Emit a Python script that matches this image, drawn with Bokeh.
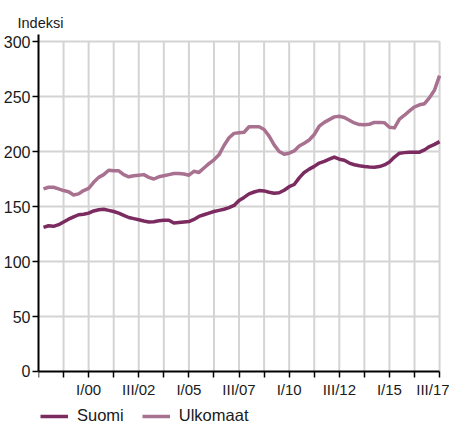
from bokeh.plotting import figure
from bokeh.models import Range1d, FixedTicker, Legend, LegendItem, ColumnDataSource, LinearAxis
from bokeh.core.properties import value
from bokeh.embed import file_html
from bokeh.resources import INLINE

# ---- data ----
start_year, start_q = 1997, 4
suomi = [131, 132.5, 132, 133.5, 136, 138.5, 140.5, 142.5, 143, 144,
         146, 147, 147.5, 146.5, 145.5, 144, 142, 140, 139, 138,
         136.8, 136, 136.2, 137, 137.5, 137.5, 135, 135.5, 136, 136.3,
         138.3, 141, 142.5, 144, 145.5, 146.5, 147.5, 149, 151, 155.5,
         158.3, 161.5, 163.2, 164.5, 164.2, 163, 162, 162.5, 164.8, 168,
         170, 176, 181, 184, 186.5, 189.5, 191, 193, 195, 193,
         192, 189.5, 188, 187, 186.4, 186, 185.8, 186.3, 187.8, 190.5,
         195, 198.5, 199, 199.4, 199.4, 199.4, 201.5, 204.5, 206.5, 209]
ulkomaat = [166, 167.5, 167.5, 166, 164.5, 163.5, 160.5, 161.5, 164.5, 166.5,
            172, 176.5, 179, 183, 182.5, 182.5, 179, 177, 178, 178.5,
            179, 176.5, 175, 177, 178, 179, 180, 180, 179.5, 178.5,
            182, 181, 185, 189, 192.5, 197, 205.5, 212.5, 216.5, 217,
            217.5, 222.5, 222.5, 222.5, 220, 214, 206, 200, 197.5, 198.5,
            200.5, 205, 207.5, 210.5, 215.5, 223, 226.5, 229, 231.5, 232,
            231, 228.5, 226, 224.5, 224.3, 224.8, 226.5, 226.5, 226.2, 222,
            221.5, 229.5, 233, 237, 240.5, 242.5, 243.5, 249, 256, 269]
series_names = ["Suomi", "Ulkomaat"]
series_colors = ["#7b2b5f", "#a8718f"]

x_ticks = [1997.5 + 1.25 * k for k in range(17)]
x_tick_labels = ["", "", "I/00", "", "III/02", "", "I/05", "", "III/07", "",
                 "I/10", "", "III/12", "", "I/15", "", "III/17"]
y_ticks = [0, 50, 100, 150, 200, 250, 300]

t = [start_year + (start_q - 1 + i) / 4.0 for i in range(len(suomi))]

FONT = "Liberation Sans"
TXT = "#1a1a1a"
GRID = "#d4d4d4"
PX_PER_YEAR = 20.2

x0, x1 = x_ticks[0], x_ticks[-1]
p = figure(width=449, height=425, output_backend="svg", toolbar_location=None,
           x_range=Range1d(x0, x1 + 10 / PX_PER_YEAR), y_range=Range1d(-49.1, 306.4),
           x_axis_location=None,
           min_border_left=35, min_border_right=0, min_border_top=34,
           min_border_bottom=0)
p.outline_line_color = None
p.background_fill_color = None
p.border_fill_color = None

p.title.text = "Indeksi"
p.title.align = "left"
p.title.offset = -21
p.title.text_font = FONT
p.title.text_font_size = "14.5px"
p.title.text_font_style = "normal"
p.title.text_color = TXT
p.title.standoff = 8

# grid
p.xgrid.visible = False
p.ygrid.visible = False
hsrc = ColumnDataSource(dict(y=y_ticks[1:], x0=[x0] * 6, x1=[x1] * 6))
p.segment(x0="x0", x1="x1", y0="y", y1="y", source=hsrc, line_color=GRID, line_width=2)
vsrc = ColumnDataSource(dict(x=x_ticks[1:], y0=[0] * 16, y1=[y_ticks[-1]] * 16))
p.segment(x0="x", x1="x", y0="y0", y1="y1", source=vsrc, line_color=GRID, line_width=2)

xaxis = LinearAxis(fixed_location=0)
p.add_layout(xaxis, "below")

for ax in (xaxis, p.yaxis[0]):
    ax.axis_line_color = "black"
    ax.axis_line_width = 2
    ax.major_tick_line_color = "black"
    ax.major_tick_line_width = 1.5
    ax.major_tick_in = 0
    ax.major_tick_out = 6
    ax.minor_tick_line_color = None
    ax.major_label_text_font = FONT
    ax.major_label_text_color = TXT
xaxis.ticker = FixedTicker(ticks=x_ticks)
overrides = {x: lab for x, lab in zip(x_ticks, x_tick_labels)}
overrides[x_ticks[-1]] = ""
xaxis.major_label_overrides = overrides
xaxis.major_label_text_font_size = "15px"
xaxis.major_label_standoff = 4
xaxis.bounds = (x0, x1)
p.yaxis.ticker = FixedTicker(ticks=y_ticks)
p.yaxis.major_label_text_font_size = "16px"
p.yaxis.major_label_standoff = 2
p.yaxis.bounds = (0, 306.4)

# last tick label, right-aligned so that it stays inside the page
p.text(x=[x_ticks[-1]], y=[0], text=[x_tick_labels[-1]], text_align="right",
       text_baseline="top", x_offset=10, y_offset=10, text_font_size="15px",
       text_color=TXT, text_font=value(FONT))

# lines
r1 = p.line(t, suomi, line_color=series_colors[0], line_width=3.5, line_join="round")
r2 = p.line(t, ulkomaat, line_color=series_colors[1], line_width=3.5, line_join="round")

legend = Legend(items=[LegendItem(label=series_names[0], renderers=[r1]),
                       LegendItem(label=series_names[1], renderers=[r2])],
                orientation="horizontal", location=(2, 0),
                label_text_font=FONT, label_text_font_size="16.5px",
                label_text_color=TXT,
                glyph_width=28, glyph_height=18, spacing=18, padding=0, margin=0,
                label_standoff=9, border_line_color=None, background_fill_alpha=0)
p.add_layout(legend, "center")

open("out.html", "w").write(file_html(p, INLINE))
